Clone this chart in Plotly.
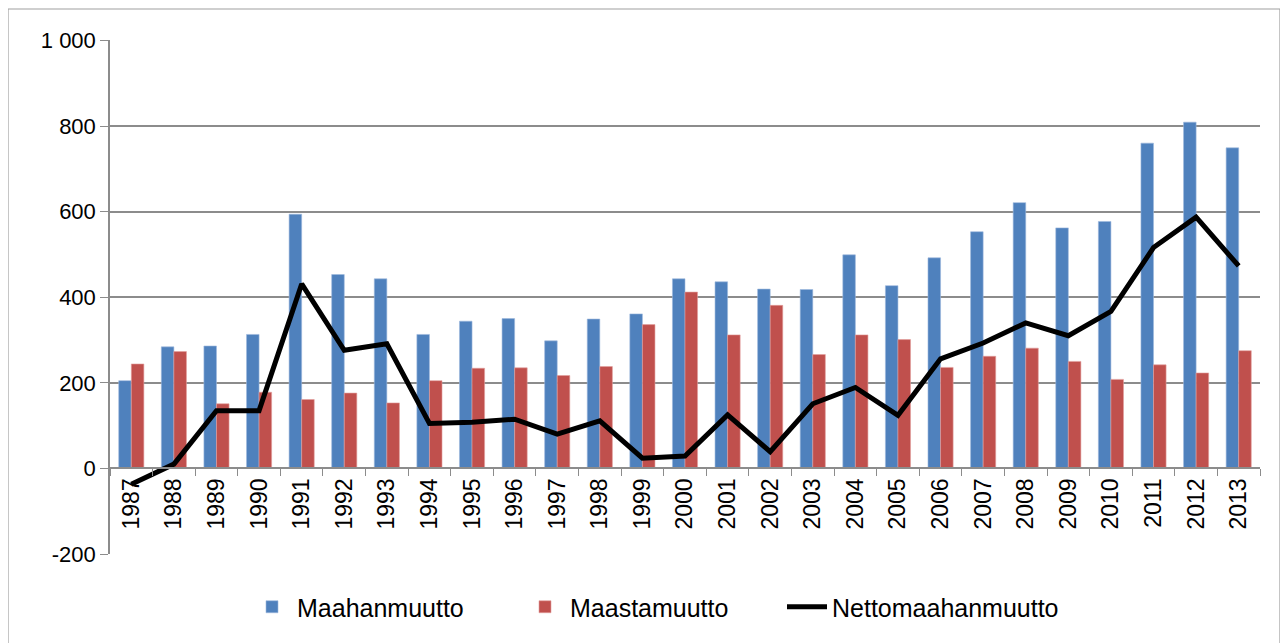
import plotly.graph_objects as go

years = [str(y) for y in range(1987, 2014)]
maahanmuutto = [205, 284, 286, 313, 594, 453, 443, 313, 344, 350, 298, 349, 361, 443,
                436, 419, 418, 499, 427, 492, 553, 621, 562, 577, 760, 809, 749]
maastamuutto = [244, 273, 151, 178, 161, 176, 153, 205, 234, 235, 217, 238, 336, 412,
                312, 381, 266, 312, 301, 236, 262, 281, 250, 208, 242, 223, 275]
netto = [-37, 10, 135, 135, 431, 276, 291, 105, 108, 115, 80, 111, 24, 29,
         125, 39, 151, 189, 124, 256, 293, 340, 310, 367, 516, 587, 473]
y_ticks = [-200, 0, 200, 400, 600, 800, 1000]
y_labels = ["-200", "0", "200", "400", "600", "800", "1 000"]

BLUE = "#4F81BD"
RED = "#C0504D"
GRID = "#8C8C8C"
FONT = "Liberation Sans, Arial, sans-serif"

fig = go.Figure()
fig.add_trace(go.Bar(
    x=years, y=maahanmuutto, name="Maahanmuutto", legend="legend",
    marker=dict(color=BLUE, line=dict(color="#9DB9DE", width=0.6)),
))
fig.add_trace(go.Bar(
    x=years, y=maastamuutto, name="Maastamuutto", legend="legend2",
    marker=dict(color=RED, line=dict(color="#E3A09E", width=0.6)),
))
fig.add_trace(go.Scatter(
    x=years, y=netto, name="Nettomaahanmuutto", mode="lines", legend="legend3",
    line=dict(color="black", width=5),
))

# the page body has an 8px margin, so the figure is drawn 8px smaller and
# all reference pixel positions are shifted by OFF
OFF = 8
W, H = 1288 - OFF, 643 - OFF
L, R, T, B = 110 - OFF, 28, 40 - OFF, 89
pw, ph = W - L - R, H - T - B


def px_x(x):
    return (x - OFF - L) / pw


def px_y(y):
    return 1 - (y - OFF - T) / ph


def legend_at(x):
    return dict(
        orientation="h", x=px_x(x), xanchor="left", y=px_y(607), yanchor="middle",
        font=dict(size=25, family=FONT), itemwidth=40,
    )


fig.update_layout(
    width=W, height=H,
    margin=dict(l=L, r=R, t=T, b=B, autoexpand=False),
    paper_bgcolor="white", plot_bgcolor="white",
    barmode="group", bargap=0.41, bargroupgap=0,
    font=dict(family=FONT, color="black"),
    showlegend=True,
    legend=legend_at(247),
    legend2=legend_at(520),
    legend3=legend_at(782),
    xaxis=dict(
        type="category", anchor="free", position=200 / 1201,
        showline=True, linecolor=GRID, linewidth=1.5,
        ticks="outside", tickson="boundaries", ticklen=7, tickcolor=GRID,
        tickangle=-90, tickfont=dict(size=23, family=FONT),
        showgrid=False,
    ),
    yaxis=dict(
        range=[-200, 1001], tickvals=y_ticks, ticktext=y_labels,
        showline=True, linecolor=GRID, linewidth=1.5,
        ticks="outside", ticklen=8, tickcolor=GRID,
        showgrid=True, gridcolor=GRID, gridwidth=1.5,
        zeroline=False, tickfont=dict(size=22, family=FONT),
    ),
    shapes=[dict(
        type="rect", xref="paper", yref="paper",
        x0=px_x(8), x1=px_x(1280), y0=px_y(660), y1=px_y(9),
        line=dict(color="#A0A0A0", width=1.2), fillcolor="rgba(0,0,0,0)", layer="above",
    )],
)

fig.write_html("out.html")
